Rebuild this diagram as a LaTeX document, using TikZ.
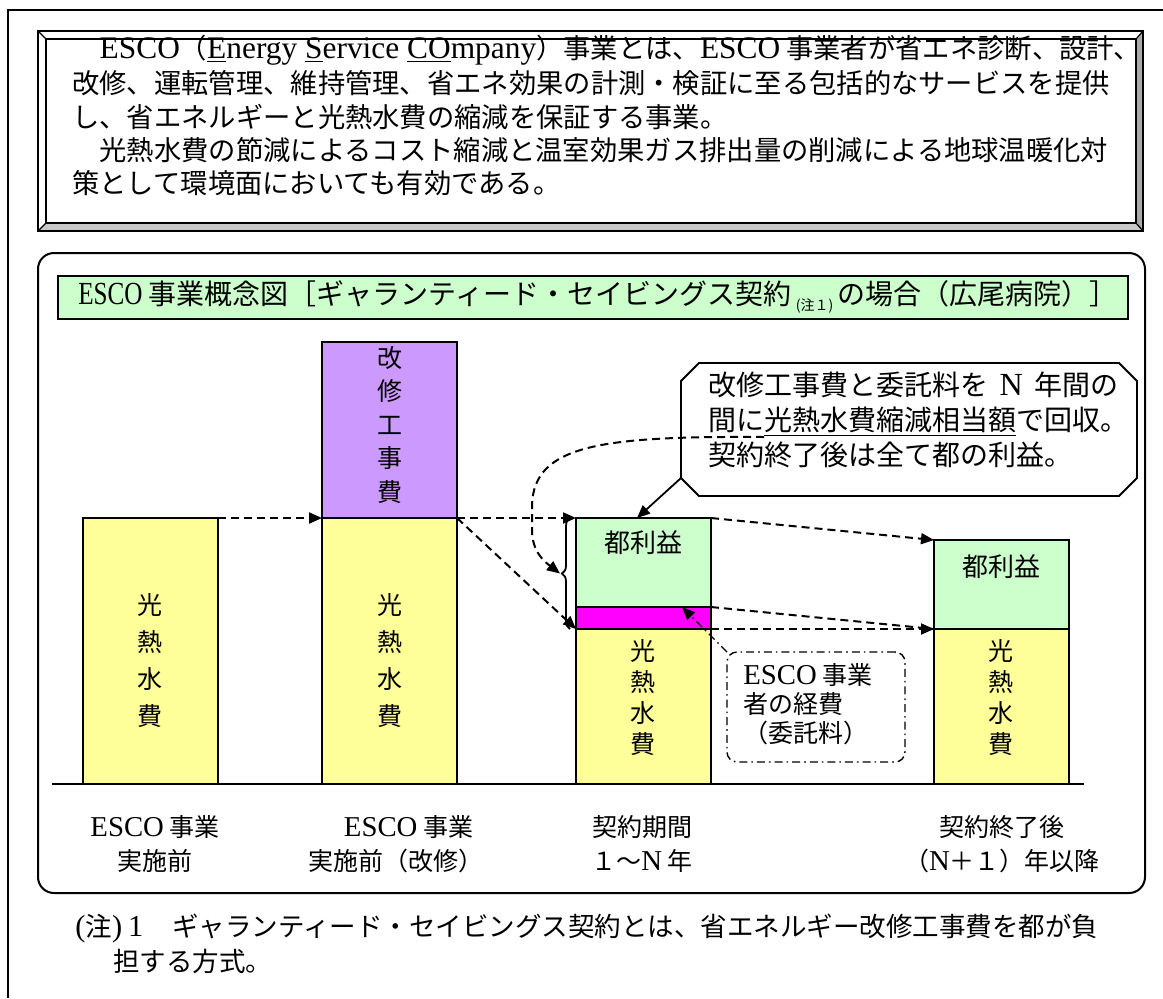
\documentclass[tikz,border=0pt]{standalone}
\usepackage{fontspec}
\usepackage{graphicx}
\setmainfont{Noto Sans CJK JP}
\newfontfamily\lat{Liberation Serif}[Scale=1.15]
\usetikzlibrary{arrows.meta,decorations.pathreplacing,calc}
\definecolor{byel}{HTML}{FFFF99}
\definecolor{bpur}{HTML}{CC99FF}
\definecolor{bgrn}{HTML}{CCFFCC}
\definecolor{bmag}{HTML}{FF00FF}
\definecolor{bevgray}{HTML}{A8A8A8}
\definecolor{bevlight}{HTML}{C8C8C8}
\tikzset{
  barbox/.style={draw, line width=1pt, inner sep=0pt, outer sep=0pt, minimum width=67.5pt, anchor=north west},
  plainbox/.style={inner sep=0pt, outer sep=0pt, anchor=north west},
  vtxt/.style={align=center, inner sep=0pt},
  txt/.style={inner sep=0pt, anchor=west},
  dsh/.style={dash pattern=on 4pt off 2.5pt, line width=1pt},
  arr/.style={-{Triangle[length=6.5pt,width=5.5pt]}},
  dashdotline/.style={line width=0.7pt, dash pattern=on 4pt off 2pt on 0.8pt off 2pt},
}
\begin{document}
\begin{tikzpicture}[x=0.5pt,y=-0.5pt]
\useasboundingbox (0,0) rectangle (1163,998);
% outer frame
\draw[line width=0.8pt] (8,998) -- (8,10) -- (1163,10);
% bevel box
\node[plainbox, minimum width=552.5pt, minimum height=100pt] (bvo) at (38,31) {};
\node[plainbox, minimum width=545pt, minimum height=92pt] (bvi) at (46,39) {};
\fill[bevgray] (bvo.north east) -- (bvo.south east) -- (bvi.south east) -- (bvi.north east) -- cycle;
\fill[bevlight] (bvo.south west) -- (bvo.south east) -- (bvi.south east) -- (bvi.south west) -- cycle;
\draw[line width=0.8pt] (bvo.north west) rectangle (bvo.south east);
\draw[line width=0.8pt] (bvi.north west) rectangle (bvi.south east);
\draw[line width=0.6pt] (bvo.north west) -- (bvi.north west) (bvo.north east) -- (bvi.north east)
  (bvo.south west) -- (bvi.south west) (bvo.south east) -- (bvi.south east);
% intro text
\begin{scope}[every node/.style={txt, font=\fontsize{13.65}{13.65}\selectfont}]
\node (t1) at (72,50) {　{\lat ESCO}（{\lat \underline{E}nergy \underline{S}ervice \underline{CO}mpany}）事業とは、{\lat ESCO} 事業者が省エネ診断、設計、};
\node (t2) at (72,83.5) {改修、運転管理、維持管理、省エネ効果の計測・検証に至る包括的なサービスを提供};
\node (t3) at (72,116.5) {し、省エネルギーと光熱水費の縮減を保証する事業。};
\node (t4) at (72,150) {　光熱水費の節減によるコスト縮減と温室効果ガス排出量の削減による地球温暖化対};
\node (t5) at (72,183) {策として環境面においても有効である。};
\end{scope}
% rounded frame
\node[plainbox, draw, line width=1pt, rounded corners=8pt, minimum width=553.5pt, minimum height=320pt] (frame) at (38,253) {};
% title banner
\node[plainbox, draw, line width=0.8pt, fill=bgrn, minimum width=535pt, minimum height=21.5pt] (banner) at (58,276) {};
\node[txt, font=\fontsize{14}{14}\selectfont] (title) at (78,297) {{\lat\scalebox{0.78}[1]{ESCO}} 事業概念図［ギャランティード・セイビングス契約\,\raisebox{-0.4ex}{\fontsize{7}{7}\selectfont ({\lat}注１)}\,の場合（広尾病院）］};
% bars
\node[barbox, fill=byel, minimum height=133pt] (b1) at (83,518) {};
\node[barbox, fill=bpur, minimum height=88pt] (b2p) at (322,342) {};
\node[barbox, fill=byel, minimum height=133pt] (b2) at (322,518) {};
\node[barbox, fill=bgrn, minimum height=44.5pt] (b3g) at (576,518) {};
\node[barbox, fill=bmag, minimum height=11pt] (b3m) at (576,607) {};
\node[barbox, fill=byel, minimum height=77.5pt] (b3y) at (576,629) {};
\node[barbox, fill=bgrn, minimum height=44.5pt] (b4g) at (934,540) {};
\node[barbox, fill=byel, minimum height=77.5pt] (b4y) at (934,629) {};
\draw[line width=1pt] (52,784) -- (1084,784);
% bar texts
\node[vtxt, font=\fontsize{12.5}{18.5}\selectfont] (v1) at (150,661) {光\\熱\\水\\費};
\node[vtxt, font=\fontsize{12.5}{18.5}\selectfont] (v2) at (390,661) {光\\熱\\水\\費};
\node[vtxt, font=\fontsize{12.5}{16.75}\selectfont] (v2p) at (390,425) {改\\修\\工\\事\\費};
\node[vtxt, font=\fontsize{13}{13}\selectfont] (g3) at (643,543) {都利益};
\node[vtxt, font=\fontsize{13}{13}\selectfont] (g4) at (1001,567) {都利益};
\node[vtxt, font=\fontsize{12.5}{15.5}\selectfont] (v3) at (643,698) {光\\熱\\水\\費};
\node[vtxt, font=\fontsize{12.5}{15.5}\selectfont] (v4) at (1001,698) {光\\熱\\水\\費};
% dashed arrows between bars
\draw[dsh, arr] (b1.north east) -- (b2.north west);
\draw[dsh, arr] (b2.north east) -- (b3g.north west);
\draw[dsh, arr] (b2.north east) -- (b3y.north west);
\draw[dsh, arr] (b3g.north east) -- (b4g.north west);
\draw[dsh] (b3m.north east) -- (b4y.north west);
\draw[dsh, arr] (b3y.north east) -- (b4y.north west);
% brace
\draw[line width=0.9pt, decorate, decoration={brace, amplitude=4pt}] ($(b3y.north west)+(-6,0)$) -- ($(b3g.north west)+(-6,0)$);
\coordinate (brtip) at ($(b3g.north west)!0.5!(b3y.north west)+(-16,0)$);
% callout
\node[txt, align=left, font=\fontsize{14}{17.5}\selectfont] (ct) at (708,420) {改修工事費と委託料を\hspace{0.4em}{\lat N}\hspace{0.4em}年間の\\間に\underline{光熱水費縮減相当額}で回収。\\契約終了後は全て都の利益。};
\draw[line width=0.9pt] (681,381) -- (699,363) -- (1119,363) -- (1137,381) -- (1137,478) -- (1119,496) -- (699,496) -- (681,478) -- cycle;
\coordinate (cpt) at (681,478);
\coordinate (gtip) at ($(b3g.north west)+(61,0)$);
\draw[line width=0.9pt, arr] (cpt) -- (gtip);
\coordinate (ul) at ($(ct.west)+(56,17)$);
\draw[dsh, arr] (ul) .. controls (600,436) and (534,445) .. (532,505) -- (532,530) .. controls (532,552) and (545,562) .. (brtip);
% ESCO expenses box
\node[plainbox, draw, dashdotline, rounded corners=5pt, minimum width=89pt, minimum height=55pt] (dbox) at (727,652) {};
\node[txt, align=left, font=\fontsize{12.5}{14.5}\selectfont] (dtxt) at (743,704) {{\lat ESCO} 事業\\者の経費\\（委託料）};
\coordinate (mg) at ($(b3m.north west)+(106,0)$);
\draw[dashdotline, arr] (dbox.north west) -- (mg);
% bottom labels
\begin{scope}[every node/.style={align=center, inner sep=0pt, font=\fontsize{12.5}{17}\selectfont}]
\node (l1) at (155,844) {{\lat ESCO} 事業\\実施前};
\node (l2) at (396,844) {\hspace{1em}{\lat ESCO} 事業\\実施前（改修）};
\node (l3) at (642,844) {契約期間\\１～{\lat N} 年};
\node (l4) at (1002,844) {契約終了後\\（{\lat N}＋１）年以降};
\end{scope}
% note
\node[txt, font=\fontsize{13.25}{13.25}\selectfont] (n1) at (75,928) {\makebox[48.5pt][l]{{\lat (}注{\lat )} {\lat 1}}ギャランティード・セイビングス契約とは、省エネルギー改修工事費を都が負};
\node[txt, font=\fontsize{13.25}{13.25}\selectfont] (n2) at (113,961) {担する方式。};
\end{tikzpicture}
\end{document}
